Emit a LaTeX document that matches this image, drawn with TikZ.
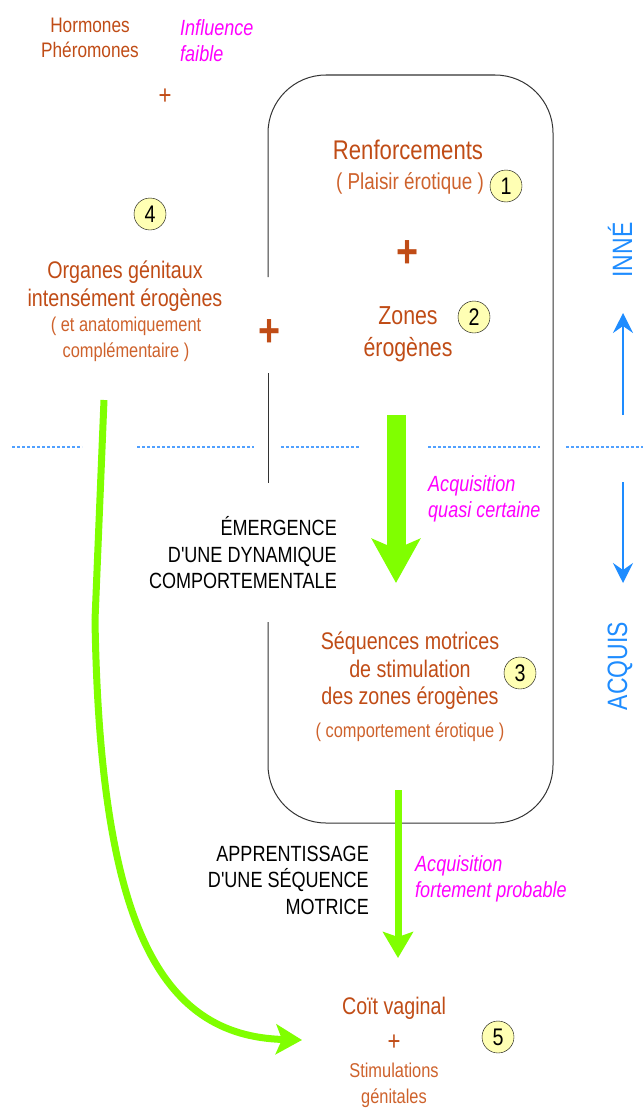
\documentclass[tikz,border=0pt]{standalone}
\usepackage{fontspec}
\setmainfont[FakeStretch=0.82]{Liberation Sans}
\newfontfamily\stagefont[FakeStretch=0.82]{Liberation Sans}
\usetikzlibrary{arrows.meta,positioning}
\definecolor{titlebrown}{RGB}{192,76,22}
\definecolor{notebrown}{RGB}{206,98,44}
\definecolor{hintmagenta}{RGB}{255,0,255}
\definecolor{flowgreen}{RGB}{128,255,0}
\definecolor{axisblue}{RGB}{30,140,255}
\definecolor{dotblue}{RGB}{80,160,255}
\definecolor{numyellow}{RGB}{255,255,180}
\newcommand{\fsz}[2]{\fontsize{#1}{#2}\selectfont}

\begin{document}
\begin{tikzpicture}[x=1pt, y=-1pt,
    title/.style={text=titlebrown, font=\fsz{24}{27.5}, align=center, inner sep=0pt},
    note/.style={text=notebrown, font=\fsz{20}{26}, align=center, inner sep=0pt},
    hint/.style={text=hintmagenta, font=\fsz{22}{26}\itshape, align=left, anchor=west, inner sep=0pt},
    stage/.style={text=black, font=\stagefont\fsz{22}{26.5}, align=right, anchor=east, inner sep=0pt},
    numdot/.style={circle, draw=black, fill=numyellow, minimum size=32pt, inner sep=0pt, font=\fsz{24}{24}},
    smallplus/.style={text=titlebrown, font=\fsz{27}{27}, inner sep=0pt},
    bigplus/.style={text=titlebrown, font=\fsz{46}{46}\bfseries, inner sep=0pt},
    axis/.style={text=axisblue, font=\fsz{28}{28}, rotate=90, inner sep=0pt},
    axisarrow/.style={draw=axisblue, line width=1.4pt, -{Stealth[length=20pt, width=20pt, inset=7pt]}},
    divider/.style={draw=dotblue, line width=1.6pt, dash pattern=on 3pt off 2pt},
    boxline/.style={draw=black!80, line width=1pt}
]
\useasboundingbox (0,0) rectangle (643,1108);

% Influences externes
\node[title, font=\fsz{21}{25}] (horm) at (90,38) {Hormones\\Phéromones};
\node[hint] (faible) at (180,41) {Influence\\faible};
\node[smallplus] (plushorm) at (165,97) {+};
\node[numdot] (n4) at (150,214) {4};
\node[title] (organes) at (125,286) {Organes génitaux\\intensément érogènes};
\node[note] (anat) at (126,339) {( et anatomiquement\\complémentaire )};
\node[bigplus] (plusleft) at (270,333) {+};

% Cadre
\draw[boxline, rounded corners=58pt] (268,277) -- (268,75) -- (553,75) -- (553,823) -- (268,823) -- (268,622);
\draw[boxline] (268,373) -- (268,483);

% Inne
\node[title, font=\fsz{27}{27}] (renf) at (408,150) {Renforcements};
\node[note, font=\fsz{23}{23}] (plaisir) at (410,183) {( Plaisir érotique )};
\node[numdot] (n1) at (506,186) {1};
\node[bigplus] (plusmid) at (408,254) {+};
\node[title, font=\fsz{26}{32}] (zones) at (408,334) {Zones\\érogènes};
\node[numdot] (n2) at (474,317) {2};

% Separation inne / acquis
\foreach \xa/\xb in {12/82, 137/254, 281/359, 428/540, 566/643}
    \draw[divider] (\xa,447) -- (\xb,447);

% Acquis
\coordinate (acqtop) at (396,415);
\coordinate (acqbot) at (396,583);
\draw[flowgreen, line width=19pt, -{Stealth[length=44pt, width=48pt, inset=10pt]}] (acqtop) -- (acqbot);
\node[hint] (quasi) at (428,499) {Acquisition\\quasi certaine};
\node[stage] (emerg) at (337,553) {ÉMERGENCE\\D'UNE DYNAMIQUE\\COMPORTEMENTALE};

\node[title] (seq) at (410,671) {Séquences motrices\\de stimulation\\des zones érogènes};
\node[note] (comport) at (410,732) {( comportement érotique )};
\node[numdot] (n3) at (520,673) {3};

\coordinate (apptop) at (398,790);
\coordinate (appbot) at (398,958);
\draw[flowgreen, line width=7pt, -{Stealth[length=26pt, width=30pt, inset=5pt]}] (apptop) -- (appbot);
\node[stage] (appr) at (369,880) {APPRENTISSAGE\\D'UNE SÉQUENCE\\MOTRICE};
\node[hint] (fortement) at (415,879) {Acquisition\\fortement probable};

\node[title] (coit) at (394,1008) {Coït vaginal};
\node[smallplus] (pluscoit) at (394,1043) {+};
\node[note] (stim) at (394,1085) {Stimulations\\génitales};
\node[numdot] (n5) at (498,1037) {5};

% Voie directe des organes genitaux
\coordinate (orgout) at (104,400);
\coordinate (orgbend) at (95,620);
\coordinate (coitin) at (302,1040);
\draw[flowgreen, line width=7pt, -{Stealth[length=26pt, width=30pt, inset=6pt]}]
    (orgout) -- (orgbend) .. controls (100,925) and (160,1036) .. (coitin);

% Axe inne / acquis
\node[axis] (inne) at (620,250) {INNÉ};
\node[axis] (acquis) at (620,666) {ACQUIS};
\coordinate (upfrom) at (623,415);
\coordinate (upto) at (623,313);
\draw[axisarrow] (upfrom) -- (upto);
\coordinate (downfrom) at (623,482);
\coordinate (downto) at (623,583);
\draw[axisarrow] (downfrom) -- (downto);

\end{tikzpicture}
\end{document}
